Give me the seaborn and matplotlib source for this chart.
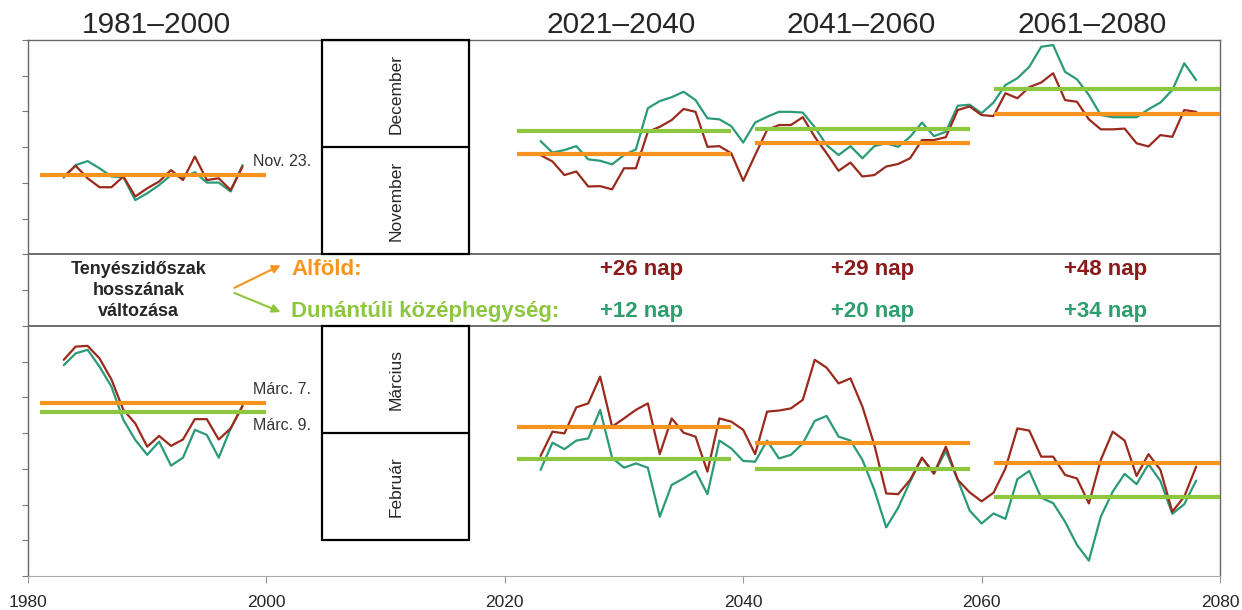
import numpy as np
import pandas as pd
import matplotlib.pyplot as plt
import seaborn as sns
from matplotlib.patches import Rectangle

# y is in days (one tick = 10 days); top panel: 90 = Nov 1, 120 = Dec 1
# bottom panel: 10 = Feb 1, 40 = Mar 1, 70 = Mar 31
hist_years = list(range(1983, 1999))
fut_years = list(range(2023, 2079))

end_alfold_hist = [111.8, 114.8, 111.3, 108.8, 108.8, 111.8, 106.2, 108.5,
                   110.4, 113.6, 110.8, 117.4, 110.8, 111.3, 108.0, 114.6]
end_dunantul_hist = [111.5, 115.0, 116.1, 114.1, 111.8, 111.6, 105.2, 107.1,
                     109.4, 112.2, 111.6, 113.0, 110.1, 110.1, 107.6, 115.0]
end_alfold_fut = [117.8, 116.0, 112.2, 113.2, 109.0, 109.1, 108.2, 114.1, 114.1, 124.3,
                  125.7, 127.6, 130.7, 129.9, 120.1, 120.3, 118.3, 110.6, 117.8, 124.8,
                  126.2, 126.2, 128.4, 122.9, 118.3, 113.4, 115.7, 111.8, 112.2, 114.6,
                  115.3, 116.9, 122.0, 122.0, 122.8, 130.4, 131.4, 129.0, 128.7, 135.1,
                  133.7, 136.8, 138.1, 140.7, 133.2, 132.7, 127.8, 125.0, 125.0, 125.2,
                  121.1, 120.2, 123.4, 122.9, 130.4, 129.9]
end_dunantul_fut = [121.7, 118.5, 119.2, 120.3, 116.6, 116.2, 115.2, 117.8, 119.4, 130.9,
                    132.9, 134.0, 135.5, 133.2, 128.1, 127.8, 125.9, 121.3, 126.9, 128.5,
                    129.9, 129.9, 129.7, 125.6, 120.6, 117.8, 120.3, 116.9, 120.3, 121.1,
                    120.1, 122.9, 126.9, 123.1, 124.3, 131.6, 131.9, 129.5, 132.5, 137.4,
                    139.3, 142.5, 148.1, 148.6, 141.1, 139.0, 134.6, 129.0, 128.4, 128.4,
                    128.4, 130.6, 132.5, 136.0, 143.5, 138.8]

start_alfold_hist = [60.5, 64.2, 64.4, 60.9, 55.0, 46.5, 42.7, 36.2,
                     39.2, 36.4, 38.2, 43.9, 43.9, 38.2, 41.3, 47.6]
start_dunantul_hist = [59.0, 62.3, 63.3, 58.6, 53.0, 43.7, 38.1, 33.9,
                       37.6, 30.9, 33.1, 40.9, 39.5, 33.1, 41.3, 47.6]
start_alfold_fut = [33.6, 40.4, 39.9, 47.2, 48.3, 55.8, 41.8, 44.1, 46.5, 48.3,
                    34.1, 44.1, 40.1, 39.0, 29.2, 44.1, 43.2, 40.9, 34.1, 46.0,
                    46.3, 46.9, 49.3, 60.5, 58.3, 53.9, 55.3, 47.4, 36.7, 23.1,
                    22.9, 26.9, 33.1, 28.7, 36.2, 26.9, 23.4, 20.9, 23.3, 30.1,
                    41.3, 40.7, 33.4, 33.4, 28.3, 27.3, 20.3, 32.5, 40.4, 37.9,
                    28.0, 34.1, 29.7, 18.0, 22.2, 30.6]
start_dunantul_fut = [29.7, 37.3, 35.5, 37.9, 38.5, 46.5, 33.1, 30.3, 31.5, 30.3,
                      16.6, 25.5, 27.3, 29.4, 22.9, 37.9, 35.7, 32.2, 32.0, 37.9,
                      32.9, 33.9, 37.1, 43.4, 44.8, 39.0, 37.9, 32.5, 24.1, 13.6,
                      19.1, 26.4, 33.1, 28.6, 35.0, 26.9, 18.3, 14.7, 17.5, 16.0,
                      27.1, 29.4, 21.9, 20.4, 15.2, 8.7, 4.3, 16.6, 23.6, 28.6,
                      25.7, 31.3, 26.6, 17.4, 20.1, 26.7]

periods = [(1981, 2000), (2021, 2039), (2041, 2059), (2061, 2080)]
period_titles = ["1981–2000", "2021–2040", "2041–2060", "2061–2080"]
end_mean_alfold = [112.2, 118.2, 121.3, 129.2]
end_mean_dunantul = [112.2, 124.6, 125.0, 136.2]
start_mean_alfold = [48.3, 41.8, 37.3, 31.5]
start_mean_dunantul = [46.0, 32.7, 29.9, 22.2]
alfold_change = [26, 29, 48]
dunantul_change = [12, 20, 34]

BROWN = "#9a2a1c"
TEAL = "#2b9a78"
ORANGE = "#f7941d"
LIME = "#8dc63f"

# long table for seaborn
parts = []
for seg, yrs, a, d in [
    ("end_hist", hist_years, end_alfold_hist, end_dunantul_hist),
    ("end_fut", fut_years, end_alfold_fut, end_dunantul_fut),
    ("start_hist", hist_years, start_alfold_hist, start_dunantul_hist),
    ("start_fut", fut_years, start_alfold_fut, start_dunantul_fut),
]:
    parts.append(pd.DataFrame({"year": yrs, "value": a, "region": "Alföld", "seg": seg}))
    parts.append(pd.DataFrame({"year": yrs, "value": d, "region": "Dunántúl", "seg": seg}))
df = pd.concat(parts, ignore_index=True)

sns.set_style("ticks")
plt.rcParams["font.family"] = ["Liberation Sans", "DejaVu Sans"]

fig = plt.figure(figsize=(12.42, 6.10), dpi=100)
ax = fig.add_axes([28 / 1242, 34 / 610, 1192 / 1242, 536 / 610])

sns.lineplot(data=df, x="year", y="value", hue="region", units="seg", estimator=None,
             hue_order=["Dunántúl", "Alföld"], palette={"Alföld": BROWN, "Dunántúl": TEAL},
             linewidth=1.6, legend=False, sort=True, ax=ax)

# period means
for i, (x0, x1) in enumerate(periods):
    if i > 0:
        ax.hlines(end_mean_dunantul[i], x0, x1, color=LIME, lw=3, zorder=3)
    ax.hlines(end_mean_alfold[i], x0, x1, color=ORANGE, lw=3, zorder=3)
    ax.hlines(start_mean_dunantul[i], x0, x1, color=LIME, lw=3, zorder=3)
    ax.hlines(start_mean_alfold[i], x0, x1, color=ORANGE, lw=3, zorder=3)

ax.text(1998.9, 115.9, "Nov. 23.", fontsize=11.5, color="#333333", va="center")
ax.text(1998.9, 52.3, "Márc. 7.", fontsize=11.5, color="#333333", va="center")
ax.text(1998.9, 42.0, "Márc. 9.", fontsize=11.5, color="#333333", va="center")

# month boxes
for y0, lo, hi in [(90, "November", "December"), (10, "Február", "Március")]:
    ax.add_patch(Rectangle((2004.7, y0), 12.3, 60, fill=False, ec="black", lw=1.6,
                           zorder=4, clip_on=False))
    ax.plot([2004.7, 2017.0], [y0 + 30, y0 + 30], color="black", lw=1.6, zorder=4)
    ax.text(2010.85, y0 + 15, lo, rotation=90, ha="center", va="center", fontsize=12.5)
    ax.text(2010.85, y0 + 45, hi, rotation=90, ha="center", va="center", fontsize=12.5)

# band in the middle
ax.axhline(70, color="#555555", lw=1.2, zorder=2)
ax.axhline(90, color="#555555", lw=1.2, zorder=2)
ax.text(1989.3, 80, "Tenyészidőszak\nhosszának\nváltozása", ha="center", va="center",
        fontsize=13, fontweight="bold", linespacing=1.3)
ax.annotate("", xy=(2001.4, 87.3), xytext=(1997.1, 80.3),
            arrowprops=dict(arrowstyle="-|>", color=ORANGE, lw=1.5, mutation_scale=12))
ax.annotate("", xy=(2001.4, 73.6), xytext=(1997.1, 79.5),
            arrowprops=dict(arrowstyle="-|>", color=LIME, lw=1.5, mutation_scale=12))
ax.text(2002.1, 85.8, "Alföld:", color=ORANGE, fontsize=16, fontweight="bold", va="center")
ax.text(2002.1, 73.9, "Dunántúli középhegység:", color=LIME, fontsize=16,
        fontweight="bold", va="center")
for x, a, d in zip([2028.0, 2047.4, 2066.9], alfold_change, dunantul_change):
    ax.text(x, 85.8, f"+{a} nap", color="#8b1a1a", fontsize=16, fontweight="bold", va="center")
    ax.text(x, 73.9, f"+{d} nap", color="#2e9e6e", fontsize=16, fontweight="bold", va="center")

for x, t in zip([1990.8, 2029.8, 2049.9, 2069.3], period_titles):
    ax.text(x, 154.3, t, ha="center", va="center", fontsize=21.5, clip_on=False)

ax.set_xlim(1980, 2080)
ax.set_ylim(0, 150)
ax.set_xticks([1980, 2000, 2020, 2040, 2060, 2080])
ax.set_yticks(np.arange(0, 151, 10))
ax.tick_params(axis="y", length=4, color="#777777", labelleft=False)
ax.tick_params(axis="x", length=5, color="#999999", labelsize=12.5, pad=9)
ax.set_xlabel("")
ax.set_ylabel("")
for side in ["top", "left", "right"]:
    ax.spines[side].set_color("#666666")
    ax.spines[side].set_linewidth(1.0)
ax.spines["bottom"].set_color("#aaaaaa")

fig.savefig("out.png", dpi=100)
